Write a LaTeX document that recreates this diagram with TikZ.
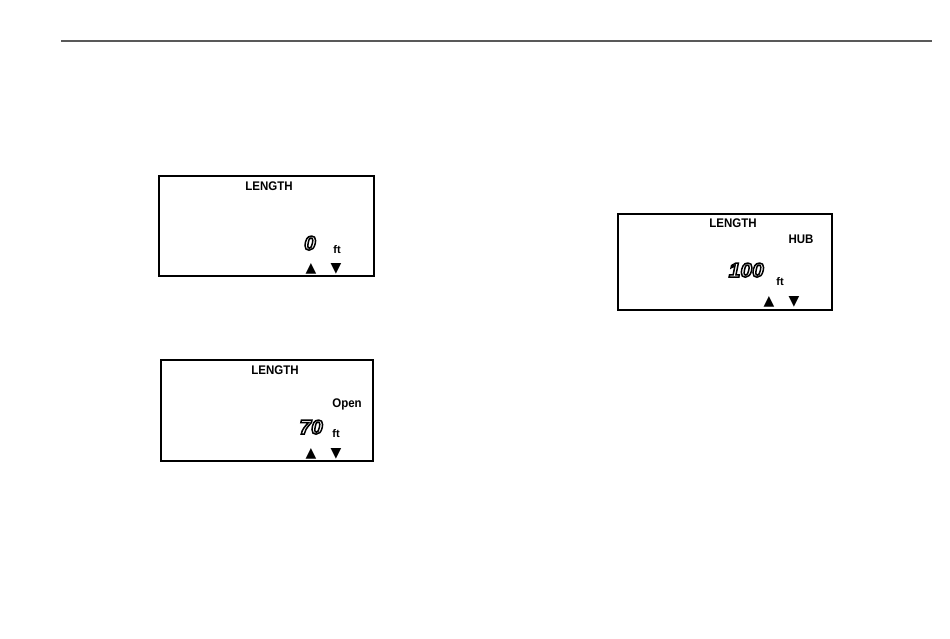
\documentclass[tikz,border=0pt]{standalone}
\usepackage{fontspec}
\setmainfont{Liberation Sans}
\newfontfamily\panelfont[FakeStretch=0.92]{Liberation Sans}
\newfontfamily\lcdfont[FakeStretch=1.05]{Liberation Sans}
\newfontfamily\symfont{DejaVu Sans}
\newcommand\hollow[1]{\special{pdf:literal direct 1.5 w 1 Tr}#1\special{pdf:literal direct 0 Tr}}

\begin{document}
\begin{tikzpicture}[x = 1pt, y = -1pt,
    lcdbox/.style = {draw, line width = 2pt},
    lbl/.style = {inner sep = 0pt, anchor = base, font = \fontsize{12.5}{12.5}\panelfont\bfseries},
    digits/.style = {inner sep = 0pt, anchor = base east, font = \fontsize{20}{20}\lcdfont\bfseries\itshape},
    unit/.style = {inner sep = 0pt, anchor = base, font = \fontsize{11}{11}\selectfont\bfseries},
    arrowsym/.style = {inner sep = 0pt, anchor = base, font = \fontsize{14}{14}\symfont}]
  \useasboundingbox (0,0) rectangle (950,638);
  \draw[black!65, line width = 1.3pt] (61,41) -- (932,41);

  % first display
  \begin{scope}[shift = {(159,176)}]
    \draw[lcdbox] (0,0) rectangle (215,100);
    \node[lbl] (len1) at (110,14) {LENGTH};
    \node[digits] (val1) at (157,74) {\hollow{0}};
    \node[unit] (ft1) at (178,77) {ft};
    \node[arrowsym] (up1) at (152,96) {▲};
    \node[arrowsym] (dn1) at (177,96) {▼};
  \end{scope}

  % second display
  \begin{scope}[shift = {(161,360)}]
    \draw[lcdbox] (0,0) rectangle (212,101);
    \node[lbl] (len2) at (114,14) {LENGTH};
    \node[lbl] (open2) at (186,47) {Open};
    \node[digits] (val2) at (162,74) {\hollow{70}};
    \node[unit] (ft2) at (175,77) {ft};
    \node[arrowsym] (up2) at (150,97) {▲};
    \node[arrowsym] (dn2) at (175,97) {▼};
  \end{scope}

  % third display
  \begin{scope}[shift = {(618,214)}]
    \draw[lcdbox, line width = 1.2pt] (0,0) rectangle (214,96);
    \node[lbl] (len3) at (115,13) {LENGTH};
    \node[lbl] (hub3) at (183,29) {HUB};
    \node[digits] (val3) at (146,63) {\hollow{100}};
    \node[unit] (ft3) at (162,71) {ft};
    \node[arrowsym] (up3) at (151,91) {▲};
    \node[arrowsym] (dn3) at (176,91) {▼};
  \end{scope}
\end{tikzpicture}
\end{document}
